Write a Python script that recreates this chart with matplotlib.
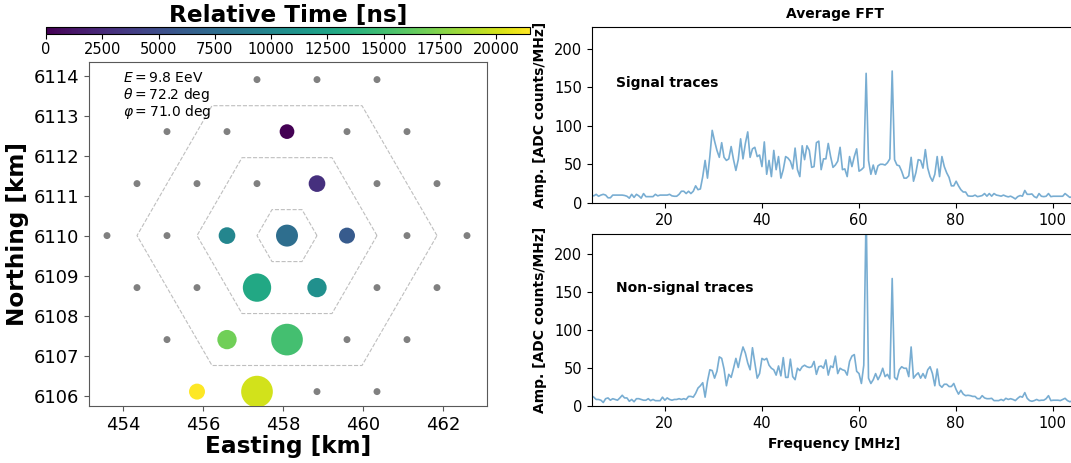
import numpy as np
import matplotlib.pyplot as plt

# --- event summary -------------------------------------------------------
energy_eev = 9.8
zenith_deg = 72.2
azimuth_deg = 71.0

# --- array layout (km) ---------------------------------------------------
core_x, core_y = 458.1, 6110.0
ring_radii = [0.75, 2.25, 3.75]

# stations without a trigger
idle_x = [457.35, 458.85, 460.35,
          455.1, 456.6, 459.6, 461.1,
          454.35, 455.85, 457.35, 460.35, 461.85,
          453.6, 455.1, 461.1, 462.6,
          454.35, 455.85, 460.35, 461.85,
          455.1, 459.6, 461.1,
          458.85, 460.35]
idle_y = [6113.9, 6113.9, 6113.9,
          6112.6, 6112.6, 6112.6, 6112.6,
          6111.3, 6111.3, 6111.3, 6111.3, 6111.3,
          6110.0, 6110.0, 6110.0, 6110.0,
          6108.7, 6108.7, 6108.7, 6108.7,
          6107.4, 6107.4, 6107.4,
          6106.1, 6106.1]

# triggered stations: position, relative trigger time (ns), marker area
hit_x = [458.1, 458.85, 456.6, 458.1, 459.6, 457.35, 458.85, 456.6, 458.1, 455.85, 457.35]
hit_y = [6112.6, 6111.3, 6110.0, 6110.0, 6110.0, 6108.7, 6108.7, 6107.4, 6107.4, 6106.1, 6106.1]
hit_time = [0, 3000, 9900, 7700, 6100, 12900, 10700, 16800, 15100, 21500, 20000]
hit_size = [112, 144, 144, 250, 132, 416, 193, 193, 520, 132, 520]
time_max = 21500

# --- average spectra (ADC counts / MHz) ------------------------------------
bin_width = 500 / 1024  # MHz, 500 MS/s and 1024 samples
first_bin = 10

signal_fft = [
    10, 9, 11, 8.5, 10, 11, 10, 6.5, 6.5, 10,
    10, 10, 10, 10, 9.5, 8.5, 6, 11, 7, 11,
    9, 6, 12, 8, 8, 8, 8, 11, 9, 10,
    10, 10, 10, 11, 9, 8.5, 8.5, 11, 15, 15,
    12, 15, 12, 15, 22, 17, 18, 34, 55, 32,
    60, 94, 80, 68, 59, 78, 59, 55, 57, 73,
    56, 42, 56, 83, 57, 77, 92, 59, 70, 72,
    60, 62, 47, 79, 37, 55, 34, 68, 43, 60,
    32, 43, 60, 58, 54, 44, 71, 43, 34, 74,
    56, 74, 68, 46, 47, 78, 80, 43, 57, 57,
    77, 60, 46, 49, 54, 72, 43, 44, 34, 60,
    47, 60, 70, 41, 43, 46, 168, 55, 37, 49,
    37, 48, 50, 50, 49, 52, 57, 171, 56, 49,
    48, 41, 32, 32, 35, 59, 28, 39, 56, 55,
    45, 69, 45, 34, 28, 37, 60, 34, 60, 47,
    39, 33, 22, 22, 28, 22, 17, 14, 14, 9,
    8.6, 8.6, 10, 8, 8.6, 9.4, 12, 8.6, 12, 8.6,
    12, 10, 9.4, 8.6, 10, 8.6, 7.7, 8.6, 7, 5,
    8, 9.4, 8.6, 16, 11, 11, 11.5, 8, 6.5, 12,
    8.5, 8, 8.5, 12, 8, 8.5, 8.5, 8.5, 8.5, 8.5,
    12, 9.5, 7, 8,
]

noise_fft = [
    14, 12, 9, 9, 8, 5, 10, 11, 8, 10,
    9, 8, 11, 14.5, 11, 11, 6.6, 9, 6, 10,
    10, 9, 8, 8, 10, 7.4, 9, 7.4, 7.4, 7.4,
    12, 8, 11, 9, 8, 9, 9, 10, 9, 10,
    9, 13, 13, 12, 17, 24, 27, 31, 12, 33,
    48, 47, 37, 46, 65, 63, 49, 27, 42, 38,
    50, 63, 51, 66, 78, 70, 57, 48, 77, 57,
    37, 43, 63, 61, 63, 54, 50, 48, 41, 53,
    40, 64, 38, 38, 62, 39, 35, 50, 47, 52,
    54, 52, 51, 52, 59, 42, 52, 53, 50, 61,
    41, 53, 51, 66, 43, 50, 48, 47, 41, 59,
    66, 68, 46, 43, 30, 54, 260, 37, 30, 35,
    43, 35, 41, 50, 39, 42, 36, 168, 38, 35,
    48, 52, 50, 50, 39, 78, 37, 41, 44, 37,
    43, 37, 48, 52, 43, 27, 49, 28, 25, 29,
    29, 26, 26, 30, 22, 16, 21, 16, 14, 14.5,
    14, 13, 13, 10, 10, 14, 11, 10, 10, 10.5,
    7.5, 7.5, 7.5, 9, 7.5, 10.5, 9, 10, 9, 7.5,
    10.5, 13, 12, 18, 10.5, 7.5, 6.6, 7.5, 9, 7.5,
    8, 8, 10, 14, 7.5, 8, 8, 8, 7.5, 9,
    10.5, 7.5, 6, 7,
]

freqs = (first_bin + np.arange(len(signal_fft))) * bin_width

W, H = 1071, 463
fig = plt.figure(figsize=(W / 100, H / 100), dpi=100)


def px_axes(left, top, right, bottom):
    """Axes rectangle given in figure pixels (origin top-left)."""
    return fig.add_axes([left / W, (H - bottom) / H, (right - left) / W, (bottom - top) / H])


# ---------------- footprint map ----------------
ax_map = px_axes(89, 62, 487, 406)

ang = np.deg2rad(np.arange(0, 361, 60))
for r in ring_radii:
    ax_map.plot(core_x + r * np.cos(ang), core_y + r * np.sin(ang),
                ls='--', color='0.75', lw=0.8, zorder=1)

ax_map.scatter(idle_x, idle_y, s=25, c='gray', edgecolors='none', zorder=2)
sc = ax_map.scatter(hit_x, hit_y, s=hit_size, c=hit_time, cmap='viridis',
                    vmin=0, vmax=time_max, edgecolors='none', zorder=3)

ax_map.set_xlim(453.15, 463.1)
ax_map.set_ylim(6105.74, 6114.34)
ax_map.set_xticks([454, 456, 458, 460, 462])
ax_map.set_yticks(np.arange(6106, 6115))
ax_map.ticklabel_format(useOffset=False)
ax_map.tick_params(labelsize=13, color='0.35')
for sp in ax_map.spines.values():
    sp.set_color('0.35')
ax_map.set_xlabel('Easting [km]', fontsize=16.7, fontweight='bold', labelpad=1)
ax_map.set_ylabel('Northing [km]', fontsize=16.7, fontweight='bold', labelpad=3)

# shower parameters, one line each
info_lines = [rf'$E = {energy_eev}$ EeV',
              rf'$\theta = {zenith_deg}$ deg',
              rf'$\varphi = {azimuth_deg}$ deg']
for line, yb in zip(info_lines, [0.942, 0.892, 0.843]):
    ax_map.text(0.085, yb, line, transform=ax_map.transAxes, fontsize=10,
                va='baseline', ha='left')

# colour bar across the top
cax = px_axes(46, 27, 530, 34)
cb = fig.colorbar(sc, cax=cax, orientation='horizontal')
cb.set_ticks(np.arange(0, 20001, 2500))
cax.tick_params(labelsize=10.5, pad=2)
cb.outline.set_linewidth(0.8)
cax.set_title('Relative Time [ns]', fontsize=16.7, fontweight='bold', pad=3)

# ---------------- spectra ----------------
ax_sig = px_axes(592, 26.7, 1077, 202.8)
ax_bkg = px_axes(592, 234, 1077, 406.3)

for ax, amp, label, top in [(ax_sig, signal_fft, 'Signal traces', 228.5),
                            (ax_bkg, noise_fft, 'Non-signal traces', 226.5)]:
    ax.plot(freqs, amp, color='tab:blue', alpha=0.6, lw=1.2)
    ax.set_xlim(5, 105)
    ax.set_ylim(0, top)
    ax.set_xticks([20, 40, 60, 80, 100])
    ax.set_yticks([0, 50, 100, 150, 200])
    ax.tick_params(labelsize=10.5)
    ax.set_ylabel('Amp. [ADC counts/MHz]', fontsize=10, fontweight='bold', labelpad=5)
    ax.text(10, 156, label, fontsize=10, fontweight='bold', va='center')

ax_sig.set_title('Average FFT', fontsize=10, fontweight='bold')
ax_bkg.set_xlabel('Frequency [MHz]', fontsize=10, fontweight='bold')

fig.savefig('out.png', dpi=100)
